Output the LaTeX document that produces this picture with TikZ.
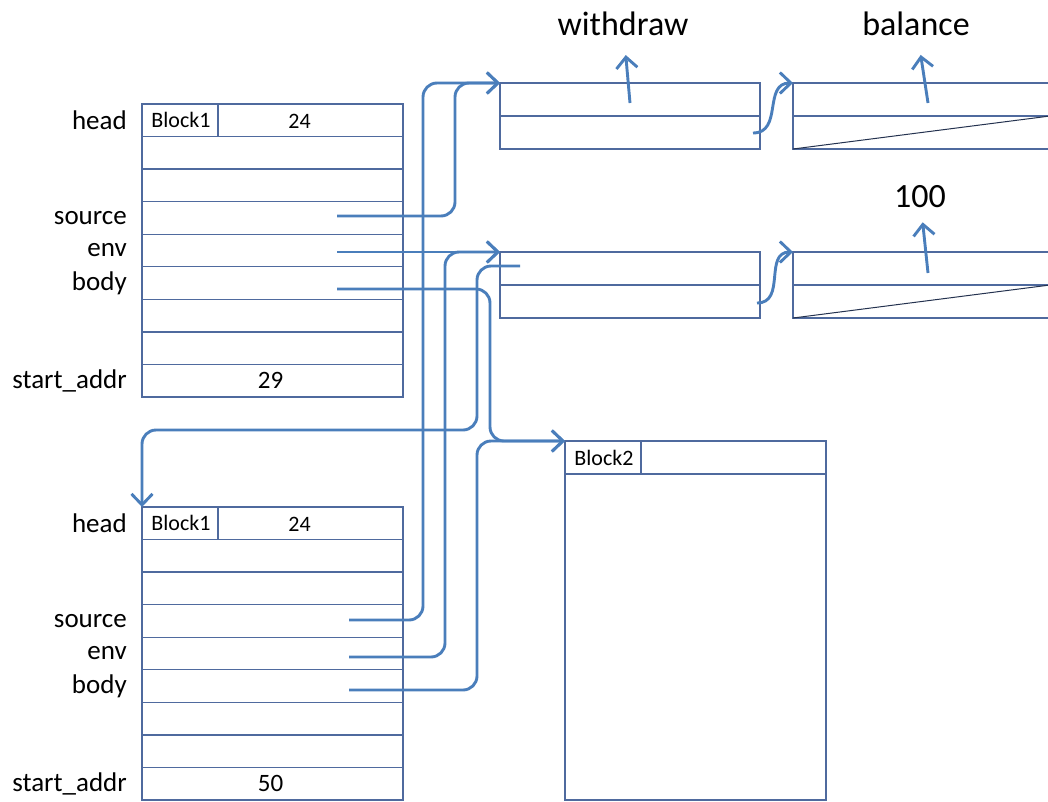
\documentclass[tikz,border=0pt]{standalone}
\usepackage{fontspec}
\setmainfont{Carlito}
\usetikzlibrary{arrows.meta, positioning, calc}
\definecolor{mline}{HTML}{4F6A9E}
\definecolor{mptr}{HTML}{4A7EBB}
\definecolor{mdiag}{HTML}{24324F}
\tikzset{
  cell/.style={draw=mline, line width=1.3pt, minimum width=261pt, minimum height=32.56pt,
               inner sep=0pt, outer sep=0pt, anchor=north west},
  half/.style={draw=mline, line width=1.3pt, minimum width=260pt, minimum height=33pt,
               inner sep=0pt, outer sep=0pt, anchor=north west},
  lbl/.style={font=\fontsize{27}{30}\selectfont, inner sep=0pt},
  val/.style={font=\fontsize{25}{28}\selectfont, inner sep=0pt},
  tag/.style={font=\fontsize{22}{24}\selectfont, inner sep=0pt},
  big/.style={font=\fontsize{34}{38}\selectfont, inner sep=2pt},
  ptr/.style={-{Straight Barb[length=11pt,width=21pt]}, line width=2.9pt, mptr},
  wire/.style={ptr, rounded corners=14pt},
}

\begin{document}
\begin{tikzpicture}[x=1pt, y=-1pt]
  \useasboundingbox (0,0) rectangle (1048,801);

  % Two frames
  \foreach \i in {1,...,9} {
    \node[cell] (a\i) at (142, {104+32.56*(\i-1)}) {};
    \node[cell] (b\i) at (142, {507+32.56*(\i-1)}) {};
  }
  \node[cell, minimum width=76pt] (a0) at (a1.north west) {};
  \node[cell, minimum width=76pt] (b0) at (b1.north west) {};
  \node[tag] at ($(a0)+(1,0)$) {Block1};
  \node[tag] at ($(b0)+(1,0)$) {Block1};
  \node[tag] at ($(a1)+(27,1)$) {24};
  \node[tag] at ($(b1)+(27,1)$) {24};
  \node[val] at ($(a9)+(-2,0)$) {29};
  \node[val] at ($(b9)+(-2,0)$) {50};

  \foreach \f in {a,b} {
    \node[lbl, left=15pt of \f1.west] {head};
    \node[lbl, left=15pt of \f4.west] {source};
    \node[lbl, left=15pt of \f5.west] {env};
    \node[lbl, left=15pt of \f6.west] {body};
    \node[lbl, left=15pt of \f9.west] {start\_addr};
  }

  % Block2
  \node[cell, minimum height=33pt] (k1) at (565,441) {};
  \node[cell, minimum height=326pt] (k2) at (k1.south west) {};
  \node[cell, minimum width=76pt, minimum height=33pt] (k0) at (k1.north west) {};
  \node[tag] at ($(k0)+(1,0)$) {Block2};

  % Pairs on the right
  \node[half] (w1) at (500,83) {};
  \node[half] (w2) at (w1.south west) {};
  \node[half, minimum width=257pt] (w3) at (793,83) {};
  \node[half, minimum width=257pt] (w4) at (w3.south west) {};
  \draw[mdiag, line width=1pt] (w4.south west) -- (w4.north east);

  \node[half] (e1) at (500,252) {};
  \node[half] (e2) at (e1.south west) {};
  \node[half, minimum width=257pt] (e3) at (793,252) {};
  \node[half, minimum width=257pt] (e4) at (e3.south west) {};
  \draw[mdiag, line width=1pt] (e4.south west) -- (e4.north east);

  \node[big] (lw) at (623,24) {withdraw};
  \node[big] (lb) at (916,24) {balance};
  \node[big] (lv) at (920,197) {100};

  % Pointer starts and bus lines
  \coordinate (as) at (337,216);
  \coordinate (ae) at (337,252);
  \coordinate (ab) at (337,289);
  \coordinate (bs) at (349,620);
  \coordinate (be) at (349,657);
  \coordinate (bb) at (349,690);
  \coordinate (ep) at (520,266);
  \coordinate (turn) at (0,430);
  \coordinate (bus1) at (423,0);
  \coordinate (bus2) at (445,0);
  \coordinate (bus3) at (455,0);
  \coordinate (bus4) at (477,0);
  \coordinate (bus5) at (490,0);

  \draw[wire] (as) -| (bus3 |- w1.north west) -- (w1.north west);
  \draw[wire] (bs) -| (bus1 |- w1.north west) -- (w1.north west);
  \draw[ptr] (ae) -- (ae -| e1.north west);
  \draw[wire] (be) -| (bus2 |- e1.north west) -- (e1.north west);
  \draw[wire] (ab) -| (bus5 |- k1.north west) -- (k1.north west);
  \draw[wire] (bb) -| (bus4 |- k1.north west) -- (k1.north west);
  \draw[wire] (ep) -| (bus4 |- turn) -| (b1.north west);

  % Links and names
  \coordinate (wn) at (753,133);
  \coordinate (en) at (757,303);
  \draw[ptr] (wn) to[out=0, in=180, looseness=1.2] (w3.north west);
  \draw[ptr] (en) to[out=0, in=180, looseness=1.2] (e3.north west);

  \coordinate (wp) at (630,103);
  \coordinate (bp) at (928,103);
  \coordinate (vp) at (928,273);
  \draw[ptr, shorten >=17pt] (wp) -- (lw);
  \draw[ptr, shorten >=17pt] (bp) -- (lb);
  \draw[ptr, shorten >=12pt] (vp) -- (lv);
\end{tikzpicture}
\end{document}
